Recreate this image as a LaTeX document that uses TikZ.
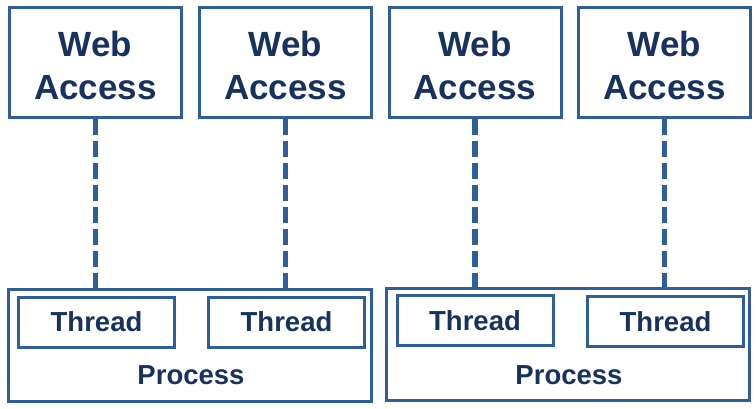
\documentclass[tikz,border=0pt]{standalone}
\usepackage{fontspec}
\setmainfont{Liberation Sans}
\definecolor{edgeblue}{HTML}{2F5E9C}
\definecolor{textnavy}{HTML}{17325F}
\begin{document}
\begin{tikzpicture}[x=1pt,y=-1pt,
  webbox/.style={draw=edgeblue, line width=3pt, minimum width=172pt, minimum height=110pt,
    inner sep=0pt, align=center, text=textnavy, font=\fontsize{35}{43}\selectfont\bfseries},
  threadbox/.style={draw=edgeblue, line width=3pt, minimum width=156pt, minimum height=50pt,
    inner sep=0pt, text=textnavy, font=\fontsize{27.5}{32}\selectfont\bfseries},
  procbox/.style={draw=edgeblue, line width=3pt, minimum width=363pt, minimum height=112pt, inner sep=0pt},
  proclabel/.style={text=textnavy, inner sep=0pt, font=\fontsize{27.5}{32}\selectfont\bfseries},
  link/.style={draw=edgeblue, line width=5.5pt, dash pattern=on 16pt off 6pt}
]
\useasboundingbox (0,0) rectangle (756,408);
\fill[white] (0,0) rectangle (756,408);
% web access boxes
\node[webbox] (w1) at (95.5,62.5) {\rule{0pt}{30.5pt}Web\\Access};
\node[webbox] (w2) at (285.5,62.5) {\rule{0pt}{30.5pt}Web\\Access};
\node[webbox] (w3) at (475,62.5) {\rule{0pt}{30.5pt}Web\\Access};
\node[webbox] (w4) at (664.5,62.5) {\rule{0pt}{30.5pt}Web\\Access};
% processes
\node[procbox] (p1) at (190,345) {};
\node[procbox] (p2) at (568,344.5) {};
\node[proclabel] (pl1) at (191,375.5) {Process};
\node[proclabel] (pl2) at (569,375.5) {Process};
% threads
\node[threadbox] (t1) at (96.5,322) {Thread};
\node[threadbox] (t2) at (286.5,322) {Thread};
\node[threadbox] (t3) at (475,320.5) {Thread};
\node[threadbox] (t4) at (665.5,321.5) {Thread};
% connectors
\draw[link] (w1.south) -- (w1.south |- p1.north);
\draw[link] (w2.south) -- (w2.south |- p1.north);
\draw[link] (w3.south) -- (w3.south |- p2.north);
\draw[link] (w4.south) -- (w4.south |- p2.north);
\end{tikzpicture}
\end{document}
